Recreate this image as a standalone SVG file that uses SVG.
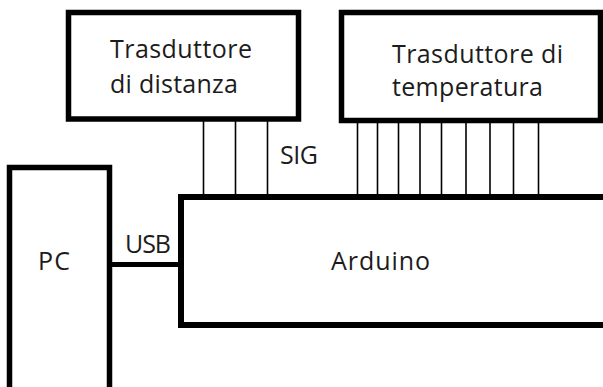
<svg xmlns="http://www.w3.org/2000/svg" width="603" height="387" viewBox="0 0 603 387">
<style>
.box{fill:#fff;stroke:#000;stroke-width:5.5}
.pin{stroke:#000;stroke-width:1.6;fill:none}
.bus{stroke:#000;stroke-width:5;fill:none}
text{font-family:"Open Sans","Noto Sans","DejaVu Sans",sans-serif;font-size:25px;fill:#1c1c1c}
</style>
<rect width="603" height="387" fill="#fff"/>
<g id="connectors">
<line class="bus" x1="110" y1="264.5" x2="180" y2="264.5"/>
<g id="dist-pins">
<line class="pin" x1="203.5" y1="119" x2="203.5" y2="196"/>
<line class="pin" x1="235.5" y1="119" x2="235.5" y2="196"/>
<line class="pin" x1="267.5" y1="119" x2="267.5" y2="196"/>
</g>
<g id="temp-pins">
<line class="pin" x1="357.5" y1="121" x2="357.5" y2="196"/>
<line class="pin" x1="377.5" y1="121" x2="377.5" y2="196"/>
<line class="pin" x1="398.5" y1="121" x2="398.5" y2="196"/>
<line class="pin" x1="420" y1="121" x2="420" y2="196"/>
<line class="pin" x1="441.5" y1="121" x2="441.5" y2="196"/>
<line class="pin" x1="466" y1="121" x2="466" y2="196"/>
<line class="pin" x1="490" y1="121" x2="490" y2="196"/>
<line class="pin" x1="513.5" y1="121" x2="513.5" y2="196"/>
<line class="pin" x1="538.5" y1="121" x2="538.5" y2="196"/>
</g>
<text x="280" y="164" textLength="38">SIG</text>
<text x="125" y="253" textLength="46">USB</text>
</g>
<g id="dist">
<rect class="box" x="68.5" y="12.5" width="230" height="106.5"/>
<text x="110" y="58" textLength="142">Trasduttore</text>
<text x="110" y="93" textLength="128">di distanza</text>
</g>
<g id="temp">
<rect class="box" x="341.5" y="12.5" width="259" height="108"/>
<text x="392" y="63" textLength="171">Trasduttore di</text>
<text x="392" y="96" textLength="151">temperatura</text>
</g>
<g id="pc">
<rect class="box" x="9.5" y="167.5" width="100" height="260"/>
<text x="38" y="270" textLength="32">PC</text>
</g>
<g id="arduino">
<rect class="box" x="181" y="197" width="460" height="128" style="stroke-width:6"/>
<text x="331" y="270" textLength="99">Arduino</text>
</g>
</svg>
